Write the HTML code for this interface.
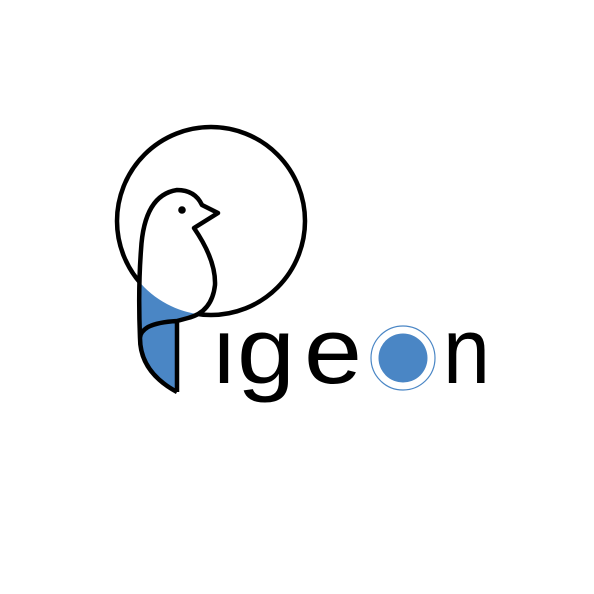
<!DOCTYPE html>
<html><head><meta charset="utf-8"><style>
html,body{margin:0;padding:0;background:#fff;}
svg{display:block}
</style></head><body>
<svg width="594" height="594" viewBox="0 0 594 594">
  <defs>
    <clipPath id="bodyclip"><path d="M140 338 Q138 290 141 250 Q144 195 177 190 Q195 190 202 205 L218 213 L194 228 Q216 260 215 285 Q212 312 188 318 L177 321 L177 392 Q140 372 140 338 Z"/></clipPath>
  </defs>
  <circle cx="211" cy="221" r="94" fill="none" stroke="#000" stroke-width="4.5"/>
  <g clip-path="url(#bodyclip)">
    <rect x="130" y="180" width="100" height="220" fill="#4a86c5"/>
    <circle cx="211" cy="221" r="94" fill="#fff"/>
  </g>
  <path d="M177 392 L177 321 Q158 322 148 327 Q140 332 140 338 Q140 372 177 392 M140 338 Q138 290 141 250 Q144 195 177 190 Q195 190 202 205 L218 213 L194 228 Q216 260 215 285 Q212 312 188 318 L177 321" fill="none" stroke="#000" stroke-width="4.5" stroke-linejoin="round"/>
  <circle cx="182" cy="210" r="3.8" fill="#000"/>
  <g font-family="Liberation Sans, sans-serif" font-size="94" fill="#000">
    <text x="211" y="383">ı</text>
    <text x="237" y="383" textLength="58" lengthAdjust="spacingAndGlyphs">g</text>
    <text x="304" y="383" textLength="58" lengthAdjust="spacingAndGlyphs">e</text>
    <text x="443" y="383" textLength="47" lengthAdjust="spacingAndGlyphs">n</text>
  </g>
  <circle cx="403" cy="358" r="32" fill="none" stroke="#4a86c5" stroke-width="1.2"/>
  <circle cx="403" cy="358" r="24.5" fill="#4a86c5"/>
</svg>
</body></html>
